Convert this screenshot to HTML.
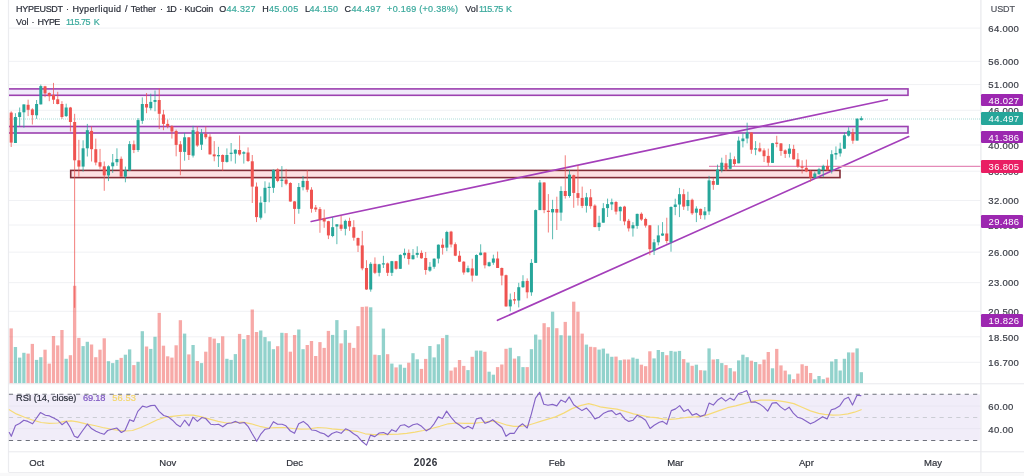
<!DOCTYPE html>
<html><head><meta charset="utf-8"><title>HYPEUSDT chart</title>
<style>
html,body{margin:0;padding:0;background:#fff;}
body{width:1024px;height:476px;position:relative;overflow:hidden;font-family:"Liberation Sans",sans-serif;}
.t{position:absolute;white-space:nowrap;line-height:12px;font-size:9px;color:#2a2e39;-webkit-text-stroke:0.2px currentColor;}
.h .d{color:#2a2e39} .h .g{color:#3aa99c}
.ax{font-size:9.5px;letter-spacing:0.3px;color:#3a3d46;}
.tm{width:40px;text-align:center;font-size:9.5px;color:#2f323b;}
.bx{position:absolute;left:981.3px;width:42px;height:12.8px;border-radius:1.3px;color:#fff;font-size:9.5px;letter-spacing:0.3px;line-height:13.2px;text-indent:7.3px;white-space:nowrap;}
</style></head><body><div id="wrap" style="position:absolute;left:0;top:0;width:1024px;height:476px;filter:blur(0.4px)">
<svg width="1024" height="476" viewBox="0 0 1024 476" style="position:absolute;left:0;top:0">
<defs><clipPath id="cp"><rect x="9" y="0" width="971.5" height="384"/></clipPath></defs>
<line x1="8.5" x2="980.9" y1="28.10" y2="28.10" stroke="#f0f1f4" stroke-width="1"/>
<line x1="8.5" x2="980.9" y1="61.32" y2="61.32" stroke="#f0f1f4" stroke-width="1"/>
<line x1="8.5" x2="980.9" y1="84.58" y2="84.58" stroke="#f0f1f4" stroke-width="1"/>
<line x1="8.5" x2="980.9" y1="110.25" y2="110.25" stroke="#f0f1f4" stroke-width="1"/>
<line x1="8.5" x2="980.9" y1="145.01" y2="145.01" stroke="#f0f1f4" stroke-width="1"/>
<line x1="8.5" x2="980.9" y1="171.22" y2="171.22" stroke="#f0f1f4" stroke-width="1"/>
<line x1="8.5" x2="980.9" y1="200.52" y2="200.52" stroke="#f0f1f4" stroke-width="1"/>
<line x1="8.5" x2="980.9" y1="225.01" y2="225.01" stroke="#f0f1f4" stroke-width="1"/>
<line x1="8.5" x2="980.9" y1="252.17" y2="252.17" stroke="#f0f1f4" stroke-width="1"/>
<line x1="8.5" x2="980.9" y1="282.67" y2="282.67" stroke="#f0f1f4" stroke-width="1"/>
<line x1="8.5" x2="980.9" y1="311.29" y2="311.29" stroke="#f0f1f4" stroke-width="1"/>
<line x1="8.5" x2="980.9" y1="336.83" y2="336.83" stroke="#f0f1f4" stroke-width="1"/>
<line x1="8.5" x2="980.9" y1="362.29" y2="362.29" stroke="#f0f1f4" stroke-width="1"/>
<rect x="9.0" y="394.3" width="970.9" height="46.099999999999966" fill="#f1edf9"/>
<line x1="8.5" x2="980.9" y1="406" y2="406" stroke="#e9e6f2" stroke-width="1"/>
<line x1="8.5" x2="980.9" y1="428.6" y2="428.6" stroke="#e9e6f2" stroke-width="1"/>
<line x1="8.5" x2="8.5" y1="0" y2="472" stroke="#ebecef" stroke-width="1.2"/>
<line x1="980.9" x2="980.9" y1="0" y2="472.8" stroke="#ebecef" stroke-width="1.4"/>
<line x1="8.5" x2="1024" y1="383.8" y2="383.8" stroke="#e8e9ed" stroke-width="1"/>
<line x1="8.5" x2="1024" y1="451.8" y2="451.8" stroke="#e8e9ed" stroke-width="1"/>
<rect x="0" y="472.8" width="1024" height="4" fill="#f8f8f9"/>
<line x1="8.5" x2="1024" y1="472.5" y2="472.5" stroke="#ececef" stroke-width="1"/>
<g clip-path="url(#cp)">
<rect x="9.55" y="328.40" width="3.3" height="54.70" fill="#ef5350" fill-opacity="0.5"/>
<rect x="13.78" y="347.00" width="3.3" height="36.10" fill="#26a69a" fill-opacity="0.5"/>
<rect x="18.01" y="357.60" width="3.3" height="25.50" fill="#26a69a" fill-opacity="0.5"/>
<rect x="22.24" y="352.80" width="3.3" height="30.30" fill="#26a69a" fill-opacity="0.5"/>
<rect x="26.47" y="353.60" width="3.3" height="29.50" fill="#ef5350" fill-opacity="0.5"/>
<rect x="30.70" y="343.90" width="3.3" height="39.20" fill="#ef5350" fill-opacity="0.5"/>
<rect x="34.93" y="359.90" width="3.3" height="23.20" fill="#26a69a" fill-opacity="0.5"/>
<rect x="39.16" y="357.20" width="3.3" height="25.90" fill="#26a69a" fill-opacity="0.5"/>
<rect x="43.39" y="349.70" width="3.3" height="33.40" fill="#ef5350" fill-opacity="0.5"/>
<rect x="47.62" y="363.60" width="3.3" height="19.50" fill="#ef5350" fill-opacity="0.5"/>
<rect x="51.85" y="336.00" width="3.3" height="47.10" fill="#ef5350" fill-opacity="0.5"/>
<rect x="56.07" y="345.40" width="3.3" height="37.70" fill="#ef5350" fill-opacity="0.5"/>
<rect x="60.30" y="330.00" width="3.3" height="53.10" fill="#ef5350" fill-opacity="0.5"/>
<rect x="64.53" y="358.80" width="3.3" height="24.30" fill="#26a69a" fill-opacity="0.5"/>
<rect x="68.76" y="355.20" width="3.3" height="27.90" fill="#ef5350" fill-opacity="0.5"/>
<rect x="72.99" y="285.80" width="3.3" height="97.30" fill="#ef5350" fill-opacity="0.5"/>
<rect x="77.22" y="337.90" width="3.3" height="45.20" fill="#ef5350" fill-opacity="0.5"/>
<rect x="81.45" y="346.10" width="3.3" height="37.00" fill="#26a69a" fill-opacity="0.5"/>
<rect x="85.68" y="341.80" width="3.3" height="41.30" fill="#26a69a" fill-opacity="0.5"/>
<rect x="89.91" y="344.50" width="3.3" height="38.60" fill="#ef5350" fill-opacity="0.5"/>
<rect x="94.14" y="357.20" width="3.3" height="25.90" fill="#ef5350" fill-opacity="0.5"/>
<rect x="98.37" y="349.70" width="3.3" height="33.40" fill="#ef5350" fill-opacity="0.5"/>
<rect x="102.60" y="338.30" width="3.3" height="44.80" fill="#ef5350" fill-opacity="0.5"/>
<rect x="106.83" y="361.20" width="3.3" height="21.90" fill="#26a69a" fill-opacity="0.5"/>
<rect x="111.06" y="363.10" width="3.3" height="20.00" fill="#26a69a" fill-opacity="0.5"/>
<rect x="115.29" y="359.90" width="3.3" height="23.20" fill="#26a69a" fill-opacity="0.5"/>
<rect x="119.52" y="357.90" width="3.3" height="25.20" fill="#ef5350" fill-opacity="0.5"/>
<rect x="123.75" y="354.70" width="3.3" height="28.40" fill="#26a69a" fill-opacity="0.5"/>
<rect x="127.98" y="349.40" width="3.3" height="33.70" fill="#26a69a" fill-opacity="0.5"/>
<rect x="132.21" y="365.10" width="3.3" height="18.00" fill="#ef5350" fill-opacity="0.5"/>
<rect x="136.43" y="361.80" width="3.3" height="21.30" fill="#26a69a" fill-opacity="0.5"/>
<rect x="140.66" y="331.20" width="3.3" height="51.90" fill="#26a69a" fill-opacity="0.5"/>
<rect x="144.89" y="346.50" width="3.3" height="36.60" fill="#ef5350" fill-opacity="0.5"/>
<rect x="149.12" y="348.90" width="3.3" height="34.20" fill="#26a69a" fill-opacity="0.5"/>
<rect x="153.35" y="336.80" width="3.3" height="46.30" fill="#26a69a" fill-opacity="0.5"/>
<rect x="157.58" y="312.90" width="3.3" height="70.20" fill="#ef5350" fill-opacity="0.5"/>
<rect x="161.81" y="345.70" width="3.3" height="37.40" fill="#ef5350" fill-opacity="0.5"/>
<rect x="166.04" y="356.30" width="3.3" height="26.80" fill="#ef5350" fill-opacity="0.5"/>
<rect x="170.27" y="357.60" width="3.3" height="25.50" fill="#ef5350" fill-opacity="0.5"/>
<rect x="174.50" y="345.30" width="3.3" height="37.80" fill="#ef5350" fill-opacity="0.5"/>
<rect x="178.73" y="320.20" width="3.3" height="62.90" fill="#ef5350" fill-opacity="0.5"/>
<rect x="182.96" y="333.60" width="3.3" height="49.50" fill="#26a69a" fill-opacity="0.5"/>
<rect x="187.19" y="354.40" width="3.3" height="28.70" fill="#ef5350" fill-opacity="0.5"/>
<rect x="191.42" y="345.00" width="3.3" height="38.10" fill="#26a69a" fill-opacity="0.5"/>
<rect x="195.65" y="361.00" width="3.3" height="22.10" fill="#ef5350" fill-opacity="0.5"/>
<rect x="199.88" y="363.10" width="3.3" height="20.00" fill="#26a69a" fill-opacity="0.5"/>
<rect x="204.11" y="351.70" width="3.3" height="31.40" fill="#ef5350" fill-opacity="0.5"/>
<rect x="208.34" y="337.10" width="3.3" height="46.00" fill="#ef5350" fill-opacity="0.5"/>
<rect x="212.57" y="338.60" width="3.3" height="44.50" fill="#ef5350" fill-opacity="0.5"/>
<rect x="216.80" y="343.10" width="3.3" height="40.00" fill="#26a69a" fill-opacity="0.5"/>
<rect x="221.02" y="336.30" width="3.3" height="46.80" fill="#ef5350" fill-opacity="0.5"/>
<rect x="225.25" y="358.80" width="3.3" height="24.30" fill="#26a69a" fill-opacity="0.5"/>
<rect x="229.48" y="359.90" width="3.3" height="23.20" fill="#26a69a" fill-opacity="0.5"/>
<rect x="233.71" y="354.10" width="3.3" height="29.00" fill="#26a69a" fill-opacity="0.5"/>
<rect x="237.94" y="333.90" width="3.3" height="49.20" fill="#ef5350" fill-opacity="0.5"/>
<rect x="242.17" y="339.10" width="3.3" height="44.00" fill="#26a69a" fill-opacity="0.5"/>
<rect x="246.40" y="335.00" width="3.3" height="48.10" fill="#ef5350" fill-opacity="0.5"/>
<rect x="250.63" y="309.50" width="3.3" height="73.60" fill="#ef5350" fill-opacity="0.5"/>
<rect x="254.86" y="332.00" width="3.3" height="51.10" fill="#ef5350" fill-opacity="0.5"/>
<rect x="259.09" y="330.50" width="3.3" height="52.60" fill="#26a69a" fill-opacity="0.5"/>
<rect x="263.32" y="337.10" width="3.3" height="46.00" fill="#26a69a" fill-opacity="0.5"/>
<rect x="267.55" y="341.30" width="3.3" height="41.80" fill="#26a69a" fill-opacity="0.5"/>
<rect x="271.78" y="349.20" width="3.3" height="33.90" fill="#26a69a" fill-opacity="0.5"/>
<rect x="276.01" y="346.20" width="3.3" height="36.90" fill="#ef5350" fill-opacity="0.5"/>
<rect x="280.24" y="332.80" width="3.3" height="50.30" fill="#26a69a" fill-opacity="0.5"/>
<rect x="284.47" y="333.10" width="3.3" height="50.00" fill="#ef5350" fill-opacity="0.5"/>
<rect x="288.70" y="351.70" width="3.3" height="31.40" fill="#ef5350" fill-opacity="0.5"/>
<rect x="292.93" y="335.00" width="3.3" height="48.10" fill="#ef5350" fill-opacity="0.5"/>
<rect x="297.16" y="329.50" width="3.3" height="53.60" fill="#26a69a" fill-opacity="0.5"/>
<rect x="301.39" y="349.20" width="3.3" height="33.90" fill="#26a69a" fill-opacity="0.5"/>
<rect x="305.62" y="345.00" width="3.3" height="38.10" fill="#ef5350" fill-opacity="0.5"/>
<rect x="309.84" y="341.00" width="3.3" height="42.10" fill="#ef5350" fill-opacity="0.5"/>
<rect x="314.07" y="356.00" width="3.3" height="27.10" fill="#ef5350" fill-opacity="0.5"/>
<rect x="318.30" y="342.10" width="3.3" height="41.00" fill="#ef5350" fill-opacity="0.5"/>
<rect x="322.53" y="347.90" width="3.3" height="35.20" fill="#ef5350" fill-opacity="0.5"/>
<rect x="326.76" y="330.90" width="3.3" height="52.20" fill="#ef5350" fill-opacity="0.5"/>
<rect x="330.99" y="334.90" width="3.3" height="48.20" fill="#26a69a" fill-opacity="0.5"/>
<rect x="335.22" y="320.10" width="3.3" height="63.00" fill="#26a69a" fill-opacity="0.5"/>
<rect x="339.45" y="343.40" width="3.3" height="39.70" fill="#ef5350" fill-opacity="0.5"/>
<rect x="343.68" y="330.10" width="3.3" height="53.00" fill="#26a69a" fill-opacity="0.5"/>
<rect x="347.91" y="342.80" width="3.3" height="40.30" fill="#ef5350" fill-opacity="0.5"/>
<rect x="352.14" y="347.90" width="3.3" height="35.20" fill="#ef5350" fill-opacity="0.5"/>
<rect x="356.37" y="326.20" width="3.3" height="56.90" fill="#ef5350" fill-opacity="0.5"/>
<rect x="360.60" y="306.90" width="3.3" height="76.20" fill="#ef5350" fill-opacity="0.5"/>
<rect x="364.83" y="306.50" width="3.3" height="76.60" fill="#ef5350" fill-opacity="0.5"/>
<rect x="369.06" y="307.30" width="3.3" height="75.80" fill="#26a69a" fill-opacity="0.5"/>
<rect x="373.29" y="354.70" width="3.3" height="28.40" fill="#ef5350" fill-opacity="0.5"/>
<rect x="377.52" y="355.10" width="3.3" height="28.00" fill="#26a69a" fill-opacity="0.5"/>
<rect x="381.75" y="328.60" width="3.3" height="54.50" fill="#26a69a" fill-opacity="0.5"/>
<rect x="385.98" y="354.20" width="3.3" height="28.90" fill="#ef5350" fill-opacity="0.5"/>
<rect x="390.20" y="363.60" width="3.3" height="19.50" fill="#26a69a" fill-opacity="0.5"/>
<rect x="394.43" y="367.40" width="3.3" height="15.70" fill="#ef5350" fill-opacity="0.5"/>
<rect x="398.66" y="364.60" width="3.3" height="18.50" fill="#26a69a" fill-opacity="0.5"/>
<rect x="402.89" y="367.80" width="3.3" height="15.30" fill="#26a69a" fill-opacity="0.5"/>
<rect x="407.12" y="362.70" width="3.3" height="20.40" fill="#ef5350" fill-opacity="0.5"/>
<rect x="411.35" y="353.20" width="3.3" height="29.90" fill="#26a69a" fill-opacity="0.5"/>
<rect x="415.58" y="359.30" width="3.3" height="23.80" fill="#26a69a" fill-opacity="0.5"/>
<rect x="419.81" y="368.90" width="3.3" height="14.20" fill="#ef5350" fill-opacity="0.5"/>
<rect x="424.04" y="358.90" width="3.3" height="24.20" fill="#ef5350" fill-opacity="0.5"/>
<rect x="428.27" y="346.00" width="3.3" height="37.10" fill="#26a69a" fill-opacity="0.5"/>
<rect x="432.50" y="357.40" width="3.3" height="25.70" fill="#26a69a" fill-opacity="0.5"/>
<rect x="436.73" y="344.30" width="3.3" height="38.80" fill="#26a69a" fill-opacity="0.5"/>
<rect x="440.96" y="338.10" width="3.3" height="45.00" fill="#ef5350" fill-opacity="0.5"/>
<rect x="445.19" y="334.90" width="3.3" height="48.20" fill="#26a69a" fill-opacity="0.5"/>
<rect x="449.42" y="370.60" width="3.3" height="12.50" fill="#ef5350" fill-opacity="0.5"/>
<rect x="453.65" y="367.40" width="3.3" height="15.70" fill="#ef5350" fill-opacity="0.5"/>
<rect x="457.88" y="360.00" width="3.3" height="23.10" fill="#ef5350" fill-opacity="0.5"/>
<rect x="462.11" y="365.90" width="3.3" height="17.20" fill="#ef5350" fill-opacity="0.5"/>
<rect x="466.34" y="370.10" width="3.3" height="13.00" fill="#26a69a" fill-opacity="0.5"/>
<rect x="470.57" y="356.80" width="3.3" height="26.30" fill="#ef5350" fill-opacity="0.5"/>
<rect x="474.80" y="350.60" width="3.3" height="32.50" fill="#26a69a" fill-opacity="0.5"/>
<rect x="479.02" y="350.60" width="3.3" height="32.50" fill="#26a69a" fill-opacity="0.5"/>
<rect x="483.25" y="351.80" width="3.3" height="31.30" fill="#ef5350" fill-opacity="0.5"/>
<rect x="487.48" y="371.70" width="3.3" height="11.40" fill="#26a69a" fill-opacity="0.5"/>
<rect x="491.71" y="374.70" width="3.3" height="8.40" fill="#26a69a" fill-opacity="0.5"/>
<rect x="495.94" y="367.10" width="3.3" height="16.00" fill="#ef5350" fill-opacity="0.5"/>
<rect x="500.17" y="364.50" width="3.3" height="18.60" fill="#ef5350" fill-opacity="0.5"/>
<rect x="504.40" y="348.80" width="3.3" height="34.30" fill="#ef5350" fill-opacity="0.5"/>
<rect x="508.63" y="347.80" width="3.3" height="35.30" fill="#26a69a" fill-opacity="0.5"/>
<rect x="512.86" y="358.60" width="3.3" height="24.50" fill="#ef5350" fill-opacity="0.5"/>
<rect x="517.09" y="356.20" width="3.3" height="26.90" fill="#26a69a" fill-opacity="0.5"/>
<rect x="521.32" y="367.10" width="3.3" height="16.00" fill="#26a69a" fill-opacity="0.5"/>
<rect x="525.55" y="367.10" width="3.3" height="16.00" fill="#ef5350" fill-opacity="0.5"/>
<rect x="529.78" y="349.20" width="3.3" height="33.90" fill="#26a69a" fill-opacity="0.5"/>
<rect x="534.01" y="334.60" width="3.3" height="48.50" fill="#26a69a" fill-opacity="0.5"/>
<rect x="538.24" y="339.60" width="3.3" height="43.50" fill="#26a69a" fill-opacity="0.5"/>
<rect x="542.47" y="323.20" width="3.3" height="59.90" fill="#ef5350" fill-opacity="0.5"/>
<rect x="546.70" y="327.20" width="3.3" height="55.90" fill="#ef5350" fill-opacity="0.5"/>
<rect x="550.93" y="311.70" width="3.3" height="71.40" fill="#26a69a" fill-opacity="0.5"/>
<rect x="555.16" y="328.20" width="3.3" height="54.90" fill="#ef5350" fill-opacity="0.5"/>
<rect x="559.38" y="335.20" width="3.3" height="47.90" fill="#26a69a" fill-opacity="0.5"/>
<rect x="563.61" y="321.90" width="3.3" height="61.20" fill="#ef5350" fill-opacity="0.5"/>
<rect x="567.84" y="335.60" width="3.3" height="47.50" fill="#26a69a" fill-opacity="0.5"/>
<rect x="572.07" y="301.70" width="3.3" height="81.40" fill="#ef5350" fill-opacity="0.5"/>
<rect x="576.30" y="311.70" width="3.3" height="71.40" fill="#ef5350" fill-opacity="0.5"/>
<rect x="580.53" y="333.60" width="3.3" height="49.50" fill="#ef5350" fill-opacity="0.5"/>
<rect x="584.76" y="344.60" width="3.3" height="38.50" fill="#26a69a" fill-opacity="0.5"/>
<rect x="588.99" y="346.80" width="3.3" height="36.30" fill="#ef5350" fill-opacity="0.5"/>
<rect x="593.22" y="347.20" width="3.3" height="35.90" fill="#ef5350" fill-opacity="0.5"/>
<rect x="597.45" y="349.60" width="3.3" height="33.50" fill="#26a69a" fill-opacity="0.5"/>
<rect x="601.68" y="348.60" width="3.3" height="34.50" fill="#26a69a" fill-opacity="0.5"/>
<rect x="605.91" y="353.60" width="3.3" height="29.50" fill="#26a69a" fill-opacity="0.5"/>
<rect x="610.14" y="356.80" width="3.3" height="26.30" fill="#26a69a" fill-opacity="0.5"/>
<rect x="614.37" y="356.60" width="3.3" height="26.50" fill="#ef5350" fill-opacity="0.5"/>
<rect x="618.60" y="360.20" width="3.3" height="22.90" fill="#26a69a" fill-opacity="0.5"/>
<rect x="622.83" y="359.50" width="3.3" height="23.60" fill="#ef5350" fill-opacity="0.5"/>
<rect x="627.06" y="359.50" width="3.3" height="23.60" fill="#ef5350" fill-opacity="0.5"/>
<rect x="631.29" y="357.60" width="3.3" height="25.50" fill="#26a69a" fill-opacity="0.5"/>
<rect x="635.52" y="358.80" width="3.3" height="24.30" fill="#26a69a" fill-opacity="0.5"/>
<rect x="639.75" y="364.70" width="3.3" height="18.40" fill="#ef5350" fill-opacity="0.5"/>
<rect x="643.98" y="366.20" width="3.3" height="16.90" fill="#ef5350" fill-opacity="0.5"/>
<rect x="648.20" y="351.30" width="3.3" height="31.80" fill="#ef5350" fill-opacity="0.5"/>
<rect x="652.43" y="358.40" width="3.3" height="24.70" fill="#26a69a" fill-opacity="0.5"/>
<rect x="656.66" y="350.00" width="3.3" height="33.10" fill="#26a69a" fill-opacity="0.5"/>
<rect x="660.89" y="352.00" width="3.3" height="31.10" fill="#26a69a" fill-opacity="0.5"/>
<rect x="665.12" y="355.20" width="3.3" height="27.90" fill="#ef5350" fill-opacity="0.5"/>
<rect x="669.35" y="350.90" width="3.3" height="32.20" fill="#26a69a" fill-opacity="0.5"/>
<rect x="673.58" y="351.60" width="3.3" height="31.50" fill="#26a69a" fill-opacity="0.5"/>
<rect x="677.81" y="350.90" width="3.3" height="32.20" fill="#26a69a" fill-opacity="0.5"/>
<rect x="682.04" y="359.10" width="3.3" height="24.00" fill="#ef5350" fill-opacity="0.5"/>
<rect x="686.27" y="362.60" width="3.3" height="20.50" fill="#26a69a" fill-opacity="0.5"/>
<rect x="690.50" y="365.80" width="3.3" height="17.30" fill="#ef5350" fill-opacity="0.5"/>
<rect x="694.73" y="364.70" width="3.3" height="18.40" fill="#26a69a" fill-opacity="0.5"/>
<rect x="698.96" y="370.20" width="3.3" height="12.90" fill="#ef5350" fill-opacity="0.5"/>
<rect x="703.19" y="370.50" width="3.3" height="12.60" fill="#26a69a" fill-opacity="0.5"/>
<rect x="707.42" y="348.40" width="3.3" height="34.70" fill="#26a69a" fill-opacity="0.5"/>
<rect x="711.65" y="359.50" width="3.3" height="23.60" fill="#ef5350" fill-opacity="0.5"/>
<rect x="715.88" y="359.10" width="3.3" height="24.00" fill="#26a69a" fill-opacity="0.5"/>
<rect x="720.11" y="363.10" width="3.3" height="20.00" fill="#26a69a" fill-opacity="0.5"/>
<rect x="724.34" y="365.10" width="3.3" height="18.00" fill="#ef5350" fill-opacity="0.5"/>
<rect x="728.57" y="368.10" width="3.3" height="15.00" fill="#26a69a" fill-opacity="0.5"/>
<rect x="732.79" y="371.40" width="3.3" height="11.70" fill="#ef5350" fill-opacity="0.5"/>
<rect x="737.02" y="360.40" width="3.3" height="22.70" fill="#26a69a" fill-opacity="0.5"/>
<rect x="741.25" y="354.70" width="3.3" height="28.40" fill="#26a69a" fill-opacity="0.5"/>
<rect x="745.48" y="357.20" width="3.3" height="25.90" fill="#26a69a" fill-opacity="0.5"/>
<rect x="749.71" y="360.70" width="3.3" height="22.40" fill="#ef5350" fill-opacity="0.5"/>
<rect x="753.94" y="362.00" width="3.3" height="21.10" fill="#26a69a" fill-opacity="0.5"/>
<rect x="758.17" y="364.20" width="3.3" height="18.90" fill="#ef5350" fill-opacity="0.5"/>
<rect x="762.40" y="359.60" width="3.3" height="23.50" fill="#ef5350" fill-opacity="0.5"/>
<rect x="766.63" y="352.00" width="3.3" height="31.10" fill="#ef5350" fill-opacity="0.5"/>
<rect x="770.86" y="368.30" width="3.3" height="14.80" fill="#26a69a" fill-opacity="0.5"/>
<rect x="775.09" y="348.90" width="3.3" height="34.20" fill="#ef5350" fill-opacity="0.5"/>
<rect x="779.32" y="365.40" width="3.3" height="17.70" fill="#ef5350" fill-opacity="0.5"/>
<rect x="783.55" y="370.60" width="3.3" height="12.50" fill="#ef5350" fill-opacity="0.5"/>
<rect x="787.78" y="374.40" width="3.3" height="8.70" fill="#26a69a" fill-opacity="0.5"/>
<rect x="792.01" y="379.20" width="3.3" height="3.90" fill="#ef5350" fill-opacity="0.5"/>
<rect x="796.24" y="373.60" width="3.3" height="9.50" fill="#ef5350" fill-opacity="0.5"/>
<rect x="800.47" y="364.30" width="3.3" height="18.80" fill="#ef5350" fill-opacity="0.5"/>
<rect x="804.70" y="365.90" width="3.3" height="17.20" fill="#ef5350" fill-opacity="0.5"/>
<rect x="808.93" y="373.00" width="3.3" height="10.10" fill="#ef5350" fill-opacity="0.5"/>
<rect x="813.16" y="379.30" width="3.3" height="3.80" fill="#26a69a" fill-opacity="0.5"/>
<rect x="817.38" y="376.00" width="3.3" height="7.10" fill="#26a69a" fill-opacity="0.5"/>
<rect x="821.61" y="379.20" width="3.3" height="3.90" fill="#26a69a" fill-opacity="0.5"/>
<rect x="825.84" y="377.60" width="3.3" height="5.50" fill="#ef5350" fill-opacity="0.5"/>
<rect x="830.07" y="361.50" width="3.3" height="21.60" fill="#26a69a" fill-opacity="0.5"/>
<rect x="834.30" y="359.10" width="3.3" height="24.00" fill="#26a69a" fill-opacity="0.5"/>
<rect x="838.53" y="370.50" width="3.3" height="12.60" fill="#26a69a" fill-opacity="0.5"/>
<rect x="842.76" y="358.80" width="3.3" height="24.30" fill="#26a69a" fill-opacity="0.5"/>
<rect x="846.99" y="352.40" width="3.3" height="30.70" fill="#26a69a" fill-opacity="0.5"/>
<rect x="851.22" y="352.50" width="3.3" height="30.60" fill="#ef5350" fill-opacity="0.5"/>
<rect x="855.45" y="348.40" width="3.3" height="34.70" fill="#26a69a" fill-opacity="0.5"/>
<rect x="859.68" y="372.20" width="3.3" height="10.90" fill="#26a69a" fill-opacity="0.5"/>
<rect x="-20" y="88.9" width="928.0" height="6.3999999999999915" fill="#f0eafa" stroke="#9c40b0" stroke-width="1.6"/>
<rect x="-20" y="126.5" width="928.0" height="6.5" fill="#f0eafa" stroke="#9c40b0" stroke-width="1.6"/>
<rect x="70.7" y="170.4" width="769.3" height="7.199999999999989" fill="#fde0e2" stroke="#832d37" stroke-width="1.6"/>
<line x1="311.2" y1="221.5" x2="887.3" y2="99.7" stroke="#a43fba" stroke-width="1.65" stroke-linecap="round"/>
<line x1="497.5" y1="320.3" x2="908.7" y2="136.6" stroke="#a43fba" stroke-width="1.65" stroke-linecap="round"/>
<line x1="709" y1="166.3" x2="980.9" y2="166.3" stroke="#e48ab8" stroke-width="1.2"/>
<line x1="9" x2="980.9" y1="119" y2="119" stroke="#26a69a" stroke-width="1" stroke-dasharray="1 1" opacity="0.38"/>
<line x1="11.20" x2="11.20" y1="111.30" y2="147.00" stroke="#ef5350" stroke-width="1" opacity="0.75"/>
<rect x="9.70" y="112.60" width="3" height="30.00" fill="#ef5350"/>
<line x1="15.43" x2="15.43" y1="113.20" y2="143.00" stroke="#26a69a" stroke-width="1" opacity="0.75"/>
<rect x="13.93" y="117.00" width="3" height="26.00" fill="#26a69a"/>
<line x1="19.66" x2="19.66" y1="107.50" y2="126.40" stroke="#26a69a" stroke-width="1" opacity="0.75"/>
<rect x="18.16" y="112.30" width="3" height="4.70" fill="#26a69a"/>
<line x1="23.89" x2="23.89" y1="104.40" y2="127.70" stroke="#26a69a" stroke-width="1" opacity="0.75"/>
<rect x="22.39" y="104.40" width="3" height="7.90" fill="#26a69a"/>
<line x1="28.12" x2="28.12" y1="99.70" y2="116.10" stroke="#ef5350" stroke-width="1" opacity="0.75"/>
<rect x="26.62" y="104.80" width="3" height="5.00" fill="#ef5350"/>
<line x1="32.35" x2="32.35" y1="108.20" y2="124.50" stroke="#ef5350" stroke-width="1" opacity="0.75"/>
<rect x="30.85" y="109.40" width="3" height="5.70" fill="#ef5350"/>
<line x1="36.58" x2="36.58" y1="100.00" y2="118.90" stroke="#26a69a" stroke-width="1" opacity="0.75"/>
<rect x="35.08" y="104.00" width="3" height="11.30" fill="#26a69a"/>
<line x1="40.81" x2="40.81" y1="84.60" y2="104.40" stroke="#26a69a" stroke-width="1" opacity="0.75"/>
<rect x="39.31" y="86.10" width="3" height="18.30" fill="#26a69a"/>
<line x1="45.04" x2="45.04" y1="85.80" y2="97.20" stroke="#ef5350" stroke-width="1" opacity="0.75"/>
<rect x="43.54" y="86.30" width="3" height="7.10" fill="#ef5350"/>
<line x1="49.27" x2="49.27" y1="92.40" y2="101.20" stroke="#ef5350" stroke-width="1" opacity="0.75"/>
<rect x="47.77" y="93.00" width="3" height="3.20" fill="#ef5350"/>
<line x1="53.50" x2="53.50" y1="82.90" y2="104.00" stroke="#ef5350" stroke-width="1" opacity="0.75"/>
<rect x="52.00" y="94.90" width="3" height="4.80" fill="#ef5350"/>
<line x1="57.72" x2="57.72" y1="91.80" y2="104.40" stroke="#ef5350" stroke-width="1" opacity="0.75"/>
<rect x="56.22" y="99.30" width="3" height="4.70" fill="#ef5350"/>
<line x1="61.95" x2="61.95" y1="101.20" y2="118.90" stroke="#ef5350" stroke-width="1" opacity="0.75"/>
<rect x="60.45" y="104.00" width="3" height="13.00" fill="#ef5350"/>
<line x1="66.18" x2="66.18" y1="103.70" y2="117.00" stroke="#26a69a" stroke-width="1" opacity="0.75"/>
<rect x="64.68" y="107.50" width="3" height="8.60" fill="#26a69a"/>
<line x1="70.41" x2="70.41" y1="106.90" y2="131.50" stroke="#ef5350" stroke-width="1" opacity="0.75"/>
<rect x="68.91" y="107.50" width="3" height="14.50" fill="#ef5350"/>
<line x1="74.64" x2="74.64" y1="113.80" y2="307.80" stroke="#ef5350" stroke-width="1" opacity="0.75"/>
<rect x="73.14" y="122.00" width="3" height="38.30" fill="#ef5350"/>
<line x1="78.87" x2="78.87" y1="139.80" y2="176.70" stroke="#ef5350" stroke-width="1" opacity="0.75"/>
<rect x="77.37" y="160.30" width="3" height="6.30" fill="#ef5350"/>
<line x1="83.10" x2="83.10" y1="140.30" y2="171.60" stroke="#26a69a" stroke-width="1" opacity="0.75"/>
<rect x="81.60" y="148.30" width="3" height="18.30" fill="#26a69a"/>
<line x1="87.33" x2="87.33" y1="123.90" y2="156.50" stroke="#26a69a" stroke-width="1" opacity="0.75"/>
<rect x="85.83" y="130.20" width="3" height="18.10" fill="#26a69a"/>
<line x1="91.56" x2="91.56" y1="126.40" y2="161.50" stroke="#ef5350" stroke-width="1" opacity="0.75"/>
<rect x="90.06" y="130.90" width="3" height="18.30" fill="#ef5350"/>
<line x1="95.79" x2="95.79" y1="138.60" y2="165.30" stroke="#ef5350" stroke-width="1" opacity="0.75"/>
<rect x="94.29" y="149.20" width="3" height="13.30" fill="#ef5350"/>
<line x1="100.02" x2="100.02" y1="148.90" y2="168.80" stroke="#ef5350" stroke-width="1" opacity="0.75"/>
<rect x="98.52" y="162.20" width="3" height="4.40" fill="#ef5350"/>
<line x1="104.25" x2="104.25" y1="161.50" y2="190.80" stroke="#ef5350" stroke-width="1" opacity="0.75"/>
<rect x="102.75" y="166.30" width="3" height="9.10" fill="#ef5350"/>
<line x1="108.48" x2="108.48" y1="165.30" y2="181.10" stroke="#26a69a" stroke-width="1" opacity="0.75"/>
<rect x="106.98" y="166.30" width="3" height="9.10" fill="#26a69a"/>
<line x1="112.71" x2="112.71" y1="154.00" y2="172.90" stroke="#26a69a" stroke-width="1" opacity="0.75"/>
<rect x="111.21" y="162.50" width="3" height="3.80" fill="#26a69a"/>
<line x1="116.94" x2="116.94" y1="148.30" y2="165.90" stroke="#26a69a" stroke-width="1" opacity="0.75"/>
<rect x="115.44" y="159.00" width="3" height="3.20" fill="#26a69a"/>
<line x1="121.17" x2="121.17" y1="156.50" y2="176.70" stroke="#ef5350" stroke-width="1" opacity="0.75"/>
<rect x="119.67" y="158.80" width="3" height="17.90" fill="#ef5350"/>
<line x1="125.40" x2="125.40" y1="166.60" y2="182.30" stroke="#26a69a" stroke-width="1" opacity="0.75"/>
<rect x="123.90" y="170.40" width="3" height="6.30" fill="#26a69a"/>
<line x1="129.63" x2="129.63" y1="141.10" y2="170.80" stroke="#26a69a" stroke-width="1" opacity="0.75"/>
<rect x="128.13" y="144.10" width="3" height="26.30" fill="#26a69a"/>
<line x1="133.86" x2="133.86" y1="140.50" y2="153.10" stroke="#ef5350" stroke-width="1" opacity="0.75"/>
<rect x="132.36" y="144.30" width="3" height="5.70" fill="#ef5350"/>
<line x1="138.08" x2="138.08" y1="118.20" y2="151.90" stroke="#26a69a" stroke-width="1" opacity="0.75"/>
<rect x="136.58" y="120.10" width="3" height="29.90" fill="#26a69a"/>
<line x1="142.31" x2="142.31" y1="97.40" y2="123.90" stroke="#26a69a" stroke-width="1" opacity="0.75"/>
<rect x="140.81" y="104.00" width="3" height="16.80" fill="#26a69a"/>
<line x1="146.54" x2="146.54" y1="93.00" y2="113.20" stroke="#ef5350" stroke-width="1" opacity="0.75"/>
<rect x="145.04" y="104.00" width="3" height="3.50" fill="#ef5350"/>
<line x1="150.77" x2="150.77" y1="93.70" y2="110.30" stroke="#26a69a" stroke-width="1" opacity="0.75"/>
<rect x="149.27" y="101.90" width="3" height="6.30" fill="#26a69a"/>
<line x1="155.00" x2="155.00" y1="90.50" y2="111.30" stroke="#26a69a" stroke-width="1" opacity="0.75"/>
<rect x="153.50" y="100.00" width="3" height="1.90" fill="#26a69a"/>
<line x1="159.23" x2="159.23" y1="88.60" y2="129.00" stroke="#ef5350" stroke-width="1" opacity="0.75"/>
<rect x="157.73" y="100.00" width="3" height="13.80" fill="#ef5350"/>
<line x1="163.46" x2="163.46" y1="109.80" y2="130.20" stroke="#ef5350" stroke-width="1" opacity="0.75"/>
<rect x="161.96" y="114.50" width="3" height="9.40" fill="#ef5350"/>
<line x1="167.69" x2="167.69" y1="119.50" y2="128.30" stroke="#ef5350" stroke-width="1" opacity="0.75"/>
<rect x="166.19" y="123.90" width="3" height="2.50" fill="#ef5350"/>
<line x1="171.92" x2="171.92" y1="125.20" y2="138.60" stroke="#ef5350" stroke-width="1" opacity="0.75"/>
<rect x="170.42" y="126.20" width="3" height="5.30" fill="#ef5350"/>
<line x1="176.15" x2="176.15" y1="129.60" y2="156.30" stroke="#ef5350" stroke-width="1" opacity="0.75"/>
<rect x="174.65" y="131.00" width="3" height="13.90" fill="#ef5350"/>
<line x1="180.38" x2="180.38" y1="141.10" y2="175.20" stroke="#ef5350" stroke-width="1" opacity="0.75"/>
<rect x="178.88" y="144.30" width="3" height="7.60" fill="#ef5350"/>
<line x1="184.61" x2="184.61" y1="132.90" y2="160.70" stroke="#26a69a" stroke-width="1" opacity="0.75"/>
<rect x="183.11" y="137.30" width="3" height="14.60" fill="#26a69a"/>
<line x1="188.84" x2="188.84" y1="137.30" y2="160.00" stroke="#ef5350" stroke-width="1" opacity="0.75"/>
<rect x="187.34" y="137.30" width="3" height="17.70" fill="#ef5350"/>
<line x1="193.07" x2="193.07" y1="125.80" y2="157.50" stroke="#26a69a" stroke-width="1" opacity="0.75"/>
<rect x="191.57" y="130.20" width="3" height="25.40" fill="#26a69a"/>
<line x1="197.30" x2="197.30" y1="126.40" y2="146.80" stroke="#ef5350" stroke-width="1" opacity="0.75"/>
<rect x="195.80" y="131.50" width="3" height="14.00" fill="#ef5350"/>
<line x1="201.53" x2="201.53" y1="129.00" y2="150.00" stroke="#26a69a" stroke-width="1" opacity="0.75"/>
<rect x="200.03" y="133.40" width="3" height="11.30" fill="#26a69a"/>
<line x1="205.76" x2="205.76" y1="126.40" y2="139.20" stroke="#ef5350" stroke-width="1" opacity="0.75"/>
<rect x="204.26" y="134.00" width="3" height="3.30" fill="#ef5350"/>
<line x1="209.99" x2="209.99" y1="134.20" y2="154.40" stroke="#ef5350" stroke-width="1" opacity="0.75"/>
<rect x="208.49" y="136.70" width="3" height="17.70" fill="#ef5350"/>
<line x1="214.22" x2="214.22" y1="141.10" y2="161.30" stroke="#ef5350" stroke-width="1" opacity="0.75"/>
<rect x="212.72" y="154.40" width="3" height="1.90" fill="#ef5350"/>
<line x1="218.45" x2="218.45" y1="146.80" y2="167.00" stroke="#26a69a" stroke-width="1" opacity="0.75"/>
<rect x="216.95" y="155.00" width="3" height="1.30" fill="#26a69a"/>
<line x1="222.67" x2="222.67" y1="154.40" y2="170.80" stroke="#ef5350" stroke-width="1" opacity="0.75"/>
<rect x="221.17" y="155.00" width="3" height="6.90" fill="#ef5350"/>
<line x1="226.90" x2="226.90" y1="148.40" y2="162.60" stroke="#26a69a" stroke-width="1" opacity="0.75"/>
<rect x="225.40" y="155.00" width="3" height="6.90" fill="#26a69a"/>
<line x1="231.13" x2="231.13" y1="143.00" y2="161.30" stroke="#26a69a" stroke-width="1" opacity="0.75"/>
<rect x="229.63" y="152.70" width="3" height="1.20" fill="#26a69a"/>
<line x1="235.36" x2="235.36" y1="149.30" y2="163.60" stroke="#26a69a" stroke-width="1" opacity="0.75"/>
<rect x="233.86" y="149.70" width="3" height="4.00" fill="#26a69a"/>
<line x1="239.59" x2="239.59" y1="135.50" y2="155.60" stroke="#ef5350" stroke-width="1" opacity="0.75"/>
<rect x="238.09" y="150.00" width="3" height="4.40" fill="#ef5350"/>
<line x1="243.82" x2="243.82" y1="151.20" y2="163.60" stroke="#26a69a" stroke-width="1" opacity="0.75"/>
<rect x="242.32" y="152.20" width="3" height="1.50" fill="#26a69a"/>
<line x1="248.05" x2="248.05" y1="147.40" y2="162.00" stroke="#ef5350" stroke-width="1" opacity="0.75"/>
<rect x="246.55" y="152.50" width="3" height="8.50" fill="#ef5350"/>
<line x1="252.28" x2="252.28" y1="155.00" y2="203.00" stroke="#ef5350" stroke-width="1" opacity="0.75"/>
<rect x="250.78" y="161.30" width="3" height="25.30" fill="#ef5350"/>
<line x1="256.51" x2="256.51" y1="182.50" y2="222.10" stroke="#ef5350" stroke-width="1" opacity="0.75"/>
<rect x="255.01" y="186.60" width="3" height="30.50" fill="#ef5350"/>
<line x1="260.74" x2="260.74" y1="196.40" y2="219.60" stroke="#26a69a" stroke-width="1" opacity="0.75"/>
<rect x="259.24" y="202.60" width="3" height="15.10" fill="#26a69a"/>
<line x1="264.97" x2="264.97" y1="181.30" y2="213.30" stroke="#26a69a" stroke-width="1" opacity="0.75"/>
<rect x="263.47" y="187.80" width="3" height="14.20" fill="#26a69a"/>
<line x1="269.20" x2="269.20" y1="182.50" y2="202.30" stroke="#26a69a" stroke-width="1" opacity="0.75"/>
<rect x="267.70" y="186.80" width="3" height="1.20" fill="#26a69a"/>
<line x1="273.43" x2="273.43" y1="169.50" y2="192.90" stroke="#26a69a" stroke-width="1" opacity="0.75"/>
<rect x="271.93" y="169.90" width="3" height="17.90" fill="#26a69a"/>
<line x1="277.66" x2="277.66" y1="168.30" y2="182.20" stroke="#ef5350" stroke-width="1" opacity="0.75"/>
<rect x="276.16" y="169.50" width="3" height="11.40" fill="#ef5350"/>
<line x1="281.89" x2="281.89" y1="166.10" y2="187.20" stroke="#26a69a" stroke-width="1" opacity="0.75"/>
<rect x="280.39" y="179.60" width="3" height="1.30" fill="#26a69a"/>
<line x1="286.12" x2="286.12" y1="168.90" y2="185.30" stroke="#ef5350" stroke-width="1" opacity="0.75"/>
<rect x="284.62" y="179.60" width="3" height="4.20" fill="#ef5350"/>
<line x1="290.35" x2="290.35" y1="182.20" y2="201.70" stroke="#ef5350" stroke-width="1" opacity="0.75"/>
<rect x="288.85" y="183.00" width="3" height="18.50" fill="#ef5350"/>
<line x1="294.58" x2="294.58" y1="201.00" y2="224.00" stroke="#ef5350" stroke-width="1" opacity="0.75"/>
<rect x="293.08" y="201.40" width="3" height="7.50" fill="#ef5350"/>
<line x1="298.81" x2="298.81" y1="183.00" y2="213.70" stroke="#26a69a" stroke-width="1" opacity="0.75"/>
<rect x="297.31" y="187.00" width="3" height="21.90" fill="#26a69a"/>
<line x1="303.04" x2="303.04" y1="175.90" y2="190.40" stroke="#26a69a" stroke-width="1" opacity="0.75"/>
<rect x="301.54" y="180.90" width="3" height="6.30" fill="#26a69a"/>
<line x1="307.26" x2="307.26" y1="170.20" y2="192.20" stroke="#ef5350" stroke-width="1" opacity="0.75"/>
<rect x="305.76" y="180.90" width="3" height="8.80" fill="#ef5350"/>
<line x1="311.49" x2="311.49" y1="187.20" y2="212.70" stroke="#ef5350" stroke-width="1" opacity="0.75"/>
<rect x="309.99" y="189.70" width="3" height="19.10" fill="#ef5350"/>
<line x1="315.72" x2="315.72" y1="205.00" y2="212.00" stroke="#ef5350" stroke-width="1" opacity="0.75"/>
<rect x="314.22" y="207.50" width="3" height="2.00" fill="#ef5350"/>
<line x1="319.95" x2="319.95" y1="207.00" y2="232.80" stroke="#ef5350" stroke-width="1" opacity="0.75"/>
<rect x="318.45" y="209.10" width="3" height="10.50" fill="#ef5350"/>
<line x1="324.18" x2="324.18" y1="209.50" y2="227.80" stroke="#ef5350" stroke-width="1" opacity="0.75"/>
<rect x="322.68" y="218.30" width="3" height="3.20" fill="#ef5350"/>
<line x1="328.41" x2="328.41" y1="220.80" y2="239.10" stroke="#ef5350" stroke-width="1" opacity="0.75"/>
<rect x="326.91" y="221.20" width="3" height="14.20" fill="#ef5350"/>
<line x1="332.64" x2="332.64" y1="217.10" y2="237.20" stroke="#26a69a" stroke-width="1" opacity="0.75"/>
<rect x="331.14" y="227.20" width="3" height="8.80" fill="#26a69a"/>
<line x1="336.87" x2="336.87" y1="224.30" y2="244.20" stroke="#26a69a" stroke-width="1" opacity="0.75"/>
<rect x="335.37" y="224.30" width="3" height="2.20" fill="#26a69a"/>
<line x1="341.10" x2="341.10" y1="215.80" y2="230.90" stroke="#ef5350" stroke-width="1" opacity="0.75"/>
<rect x="339.60" y="224.60" width="3" height="4.20" fill="#ef5350"/>
<line x1="345.33" x2="345.33" y1="219.60" y2="235.40" stroke="#26a69a" stroke-width="1" opacity="0.75"/>
<rect x="343.83" y="220.90" width="3" height="7.90" fill="#26a69a"/>
<line x1="349.56" x2="349.56" y1="217.70" y2="230.90" stroke="#ef5350" stroke-width="1" opacity="0.75"/>
<rect x="348.06" y="220.90" width="3" height="5.60" fill="#ef5350"/>
<line x1="353.79" x2="353.79" y1="220.20" y2="240.70" stroke="#ef5350" stroke-width="1" opacity="0.75"/>
<rect x="352.29" y="227.20" width="3" height="10.50" fill="#ef5350"/>
<line x1="358.02" x2="358.02" y1="237.50" y2="252.00" stroke="#ef5350" stroke-width="1" opacity="0.75"/>
<rect x="356.52" y="238.00" width="3" height="7.60" fill="#ef5350"/>
<line x1="362.25" x2="362.25" y1="230.90" y2="270.30" stroke="#ef5350" stroke-width="1" opacity="0.75"/>
<rect x="360.75" y="245.40" width="3" height="23.00" fill="#ef5350"/>
<line x1="366.48" x2="366.48" y1="260.20" y2="289.90" stroke="#ef5350" stroke-width="1" opacity="0.75"/>
<rect x="364.98" y="268.00" width="3" height="21.50" fill="#ef5350"/>
<line x1="370.71" x2="370.71" y1="262.10" y2="291.70" stroke="#26a69a" stroke-width="1" opacity="0.75"/>
<rect x="369.21" y="263.80" width="3" height="25.70" fill="#26a69a"/>
<line x1="374.94" x2="374.94" y1="257.40" y2="274.10" stroke="#ef5350" stroke-width="1" opacity="0.75"/>
<rect x="373.44" y="263.80" width="3" height="9.00" fill="#ef5350"/>
<line x1="379.17" x2="379.17" y1="263.80" y2="276.40" stroke="#26a69a" stroke-width="1" opacity="0.75"/>
<rect x="377.67" y="264.30" width="3" height="8.50" fill="#26a69a"/>
<line x1="383.40" x2="383.40" y1="255.80" y2="268.00" stroke="#26a69a" stroke-width="1" opacity="0.75"/>
<rect x="381.90" y="263.30" width="3" height="1.20" fill="#26a69a"/>
<line x1="387.63" x2="387.63" y1="262.50" y2="276.00" stroke="#ef5350" stroke-width="1" opacity="0.75"/>
<rect x="386.13" y="263.40" width="3" height="9.40" fill="#ef5350"/>
<line x1="391.85" x2="391.85" y1="260.90" y2="276.00" stroke="#26a69a" stroke-width="1" opacity="0.75"/>
<rect x="390.35" y="261.20" width="3" height="11.60" fill="#26a69a"/>
<line x1="396.08" x2="396.08" y1="260.90" y2="269.70" stroke="#ef5350" stroke-width="1" opacity="0.75"/>
<rect x="394.58" y="261.20" width="3" height="7.60" fill="#ef5350"/>
<line x1="400.31" x2="400.31" y1="254.20" y2="269.00" stroke="#26a69a" stroke-width="1" opacity="0.75"/>
<rect x="398.81" y="254.90" width="3" height="13.90" fill="#26a69a"/>
<line x1="404.54" x2="404.54" y1="248.60" y2="258.30" stroke="#26a69a" stroke-width="1" opacity="0.75"/>
<rect x="403.04" y="252.90" width="3" height="2.30" fill="#26a69a"/>
<line x1="408.77" x2="408.77" y1="249.50" y2="264.60" stroke="#ef5350" stroke-width="1" opacity="0.75"/>
<rect x="407.27" y="252.90" width="3" height="6.10" fill="#ef5350"/>
<line x1="413.00" x2="413.00" y1="249.10" y2="259.60" stroke="#26a69a" stroke-width="1" opacity="0.75"/>
<rect x="411.50" y="255.20" width="3" height="4.00" fill="#26a69a"/>
<line x1="417.23" x2="417.23" y1="246.30" y2="257.70" stroke="#26a69a" stroke-width="1" opacity="0.75"/>
<rect x="415.73" y="252.90" width="3" height="2.00" fill="#26a69a"/>
<line x1="421.46" x2="421.46" y1="250.40" y2="258.70" stroke="#ef5350" stroke-width="1" opacity="0.75"/>
<rect x="419.96" y="252.90" width="3" height="5.40" fill="#ef5350"/>
<line x1="425.69" x2="425.69" y1="252.00" y2="274.70" stroke="#ef5350" stroke-width="1" opacity="0.75"/>
<rect x="424.19" y="258.00" width="3" height="12.00" fill="#ef5350"/>
<line x1="429.92" x2="429.92" y1="262.10" y2="271.80" stroke="#26a69a" stroke-width="1" opacity="0.75"/>
<rect x="428.42" y="266.80" width="3" height="3.80" fill="#26a69a"/>
<line x1="434.15" x2="434.15" y1="258.30" y2="268.80" stroke="#26a69a" stroke-width="1" opacity="0.75"/>
<rect x="432.65" y="258.70" width="3" height="8.10" fill="#26a69a"/>
<line x1="438.38" x2="438.38" y1="244.40" y2="263.40" stroke="#26a69a" stroke-width="1" opacity="0.75"/>
<rect x="436.88" y="244.70" width="3" height="13.90" fill="#26a69a"/>
<line x1="442.61" x2="442.61" y1="238.50" y2="254.60" stroke="#ef5350" stroke-width="1" opacity="0.75"/>
<rect x="441.11" y="244.70" width="3" height="3.10" fill="#ef5350"/>
<line x1="446.84" x2="446.84" y1="230.80" y2="251.20" stroke="#26a69a" stroke-width="1" opacity="0.75"/>
<rect x="445.34" y="232.00" width="3" height="15.60" fill="#26a69a"/>
<line x1="451.07" x2="451.07" y1="230.80" y2="247.40" stroke="#ef5350" stroke-width="1" opacity="0.75"/>
<rect x="449.57" y="231.60" width="3" height="12.90" fill="#ef5350"/>
<line x1="455.30" x2="455.30" y1="242.40" y2="256.20" stroke="#ef5350" stroke-width="1" opacity="0.75"/>
<rect x="453.80" y="244.20" width="3" height="11.50" fill="#ef5350"/>
<line x1="459.53" x2="459.53" y1="250.90" y2="262.10" stroke="#ef5350" stroke-width="1" opacity="0.75"/>
<rect x="458.03" y="255.70" width="3" height="6.00" fill="#ef5350"/>
<line x1="463.76" x2="463.76" y1="261.20" y2="274.70" stroke="#ef5350" stroke-width="1" opacity="0.75"/>
<rect x="462.26" y="261.70" width="3" height="10.80" fill="#ef5350"/>
<line x1="467.99" x2="467.99" y1="265.60" y2="272.80" stroke="#26a69a" stroke-width="1" opacity="0.75"/>
<rect x="466.49" y="268.20" width="3" height="3.90" fill="#26a69a"/>
<line x1="472.22" x2="472.22" y1="258.70" y2="281.60" stroke="#ef5350" stroke-width="1" opacity="0.75"/>
<rect x="470.72" y="268.40" width="3" height="7.20" fill="#ef5350"/>
<line x1="476.44" x2="476.44" y1="254.30" y2="275.60" stroke="#26a69a" stroke-width="1" opacity="0.75"/>
<rect x="474.94" y="255.00" width="3" height="20.60" fill="#26a69a"/>
<line x1="480.67" x2="480.67" y1="244.30" y2="255.40" stroke="#26a69a" stroke-width="1" opacity="0.75"/>
<rect x="479.17" y="252.60" width="3" height="2.50" fill="#26a69a"/>
<line x1="484.90" x2="484.90" y1="252.20" y2="268.40" stroke="#ef5350" stroke-width="1" opacity="0.75"/>
<rect x="483.40" y="252.60" width="3" height="12.70" fill="#ef5350"/>
<line x1="489.13" x2="489.13" y1="261.70" y2="266.70" stroke="#26a69a" stroke-width="1" opacity="0.75"/>
<rect x="487.63" y="262.30" width="3" height="3.80" fill="#26a69a"/>
<line x1="493.36" x2="493.36" y1="254.70" y2="264.80" stroke="#26a69a" stroke-width="1" opacity="0.75"/>
<rect x="491.86" y="258.50" width="3" height="4.20" fill="#26a69a"/>
<line x1="497.59" x2="497.59" y1="251.60" y2="268.00" stroke="#ef5350" stroke-width="1" opacity="0.75"/>
<rect x="496.09" y="258.50" width="3" height="9.50" fill="#ef5350"/>
<line x1="501.82" x2="501.82" y1="267.50" y2="285.30" stroke="#ef5350" stroke-width="1" opacity="0.75"/>
<rect x="500.32" y="268.00" width="3" height="7.60" fill="#ef5350"/>
<line x1="506.05" x2="506.05" y1="274.60" y2="306.80" stroke="#ef5350" stroke-width="1" opacity="0.75"/>
<rect x="504.55" y="275.20" width="3" height="31.20" fill="#ef5350"/>
<line x1="510.28" x2="510.28" y1="293.50" y2="311.40" stroke="#26a69a" stroke-width="1" opacity="0.75"/>
<rect x="508.78" y="299.60" width="3" height="6.80" fill="#26a69a"/>
<line x1="514.51" x2="514.51" y1="292.00" y2="304.20" stroke="#ef5350" stroke-width="1" opacity="0.75"/>
<rect x="513.01" y="299.20" width="3" height="1.30" fill="#ef5350"/>
<line x1="518.74" x2="518.74" y1="282.80" y2="307.40" stroke="#26a69a" stroke-width="1" opacity="0.75"/>
<rect x="517.24" y="287.20" width="3" height="13.30" fill="#26a69a"/>
<line x1="522.97" x2="522.97" y1="275.20" y2="287.90" stroke="#26a69a" stroke-width="1" opacity="0.75"/>
<rect x="521.47" y="281.20" width="3" height="6.00" fill="#26a69a"/>
<line x1="527.20" x2="527.20" y1="278.40" y2="298.30" stroke="#ef5350" stroke-width="1" opacity="0.75"/>
<rect x="525.70" y="280.90" width="3" height="11.40" fill="#ef5350"/>
<line x1="531.43" x2="531.43" y1="259.10" y2="295.80" stroke="#26a69a" stroke-width="1" opacity="0.75"/>
<rect x="529.93" y="262.90" width="3" height="29.40" fill="#26a69a"/>
<line x1="535.66" x2="535.66" y1="209.50" y2="263.00" stroke="#26a69a" stroke-width="1" opacity="0.75"/>
<rect x="534.16" y="210.10" width="3" height="52.80" fill="#26a69a"/>
<line x1="539.89" x2="539.89" y1="180.00" y2="210.10" stroke="#26a69a" stroke-width="1" opacity="0.75"/>
<rect x="538.39" y="182.50" width="3" height="27.60" fill="#26a69a"/>
<line x1="544.12" x2="544.12" y1="182.20" y2="213.20" stroke="#ef5350" stroke-width="1" opacity="0.75"/>
<rect x="542.62" y="182.50" width="3" height="27.60" fill="#ef5350"/>
<line x1="548.35" x2="548.35" y1="194.10" y2="232.50" stroke="#ef5350" stroke-width="1" opacity="0.75"/>
<rect x="546.85" y="210.70" width="3" height="1.30" fill="#ef5350"/>
<line x1="552.58" x2="552.58" y1="199.80" y2="239.30" stroke="#26a69a" stroke-width="1" opacity="0.75"/>
<rect x="551.08" y="209.00" width="3" height="3.40" fill="#26a69a"/>
<line x1="556.81" x2="556.81" y1="196.70" y2="230.00" stroke="#ef5350" stroke-width="1" opacity="0.75"/>
<rect x="555.31" y="209.00" width="3" height="3.60" fill="#ef5350"/>
<line x1="561.03" x2="561.03" y1="186.30" y2="220.80" stroke="#26a69a" stroke-width="1" opacity="0.75"/>
<rect x="559.53" y="191.00" width="3" height="21.60" fill="#26a69a"/>
<line x1="565.26" x2="565.26" y1="155.30" y2="198.60" stroke="#ef5350" stroke-width="1" opacity="0.75"/>
<rect x="563.76" y="191.00" width="3" height="5.00" fill="#ef5350"/>
<line x1="569.49" x2="569.49" y1="170.20" y2="197.70" stroke="#26a69a" stroke-width="1" opacity="0.75"/>
<rect x="567.99" y="174.60" width="3" height="21.40" fill="#26a69a"/>
<line x1="573.72" x2="573.72" y1="174.60" y2="207.80" stroke="#ef5350" stroke-width="1" opacity="0.75"/>
<rect x="572.22" y="175.20" width="3" height="17.70" fill="#ef5350"/>
<line x1="577.95" x2="577.95" y1="165.10" y2="205.60" stroke="#ef5350" stroke-width="1" opacity="0.75"/>
<rect x="576.45" y="193.10" width="3" height="4.80" fill="#ef5350"/>
<line x1="582.18" x2="582.18" y1="186.60" y2="208.10" stroke="#ef5350" stroke-width="1" opacity="0.75"/>
<rect x="580.68" y="197.90" width="3" height="8.00" fill="#ef5350"/>
<line x1="586.41" x2="586.41" y1="192.90" y2="212.60" stroke="#26a69a" stroke-width="1" opacity="0.75"/>
<rect x="584.91" y="197.30" width="3" height="8.50" fill="#26a69a"/>
<line x1="590.64" x2="590.64" y1="189.10" y2="208.80" stroke="#ef5350" stroke-width="1" opacity="0.75"/>
<rect x="589.14" y="197.30" width="3" height="8.90" fill="#ef5350"/>
<line x1="594.87" x2="594.87" y1="204.30" y2="227.10" stroke="#ef5350" stroke-width="1" opacity="0.75"/>
<rect x="593.37" y="205.60" width="3" height="21.50" fill="#ef5350"/>
<line x1="599.10" x2="599.10" y1="215.80" y2="230.90" stroke="#26a69a" stroke-width="1" opacity="0.75"/>
<rect x="597.60" y="222.70" width="3" height="4.40" fill="#26a69a"/>
<line x1="603.33" x2="603.33" y1="203.10" y2="222.70" stroke="#26a69a" stroke-width="1" opacity="0.75"/>
<rect x="601.83" y="208.20" width="3" height="14.50" fill="#26a69a"/>
<line x1="607.56" x2="607.56" y1="198.60" y2="217.00" stroke="#26a69a" stroke-width="1" opacity="0.75"/>
<rect x="606.06" y="204.10" width="3" height="4.00" fill="#26a69a"/>
<line x1="611.79" x2="611.79" y1="198.60" y2="210.10" stroke="#26a69a" stroke-width="1" opacity="0.75"/>
<rect x="610.29" y="202.10" width="3" height="2.30" fill="#26a69a"/>
<line x1="616.02" x2="616.02" y1="201.10" y2="214.50" stroke="#ef5350" stroke-width="1" opacity="0.75"/>
<rect x="614.52" y="202.00" width="3" height="9.60" fill="#ef5350"/>
<line x1="620.25" x2="620.25" y1="206.30" y2="220.80" stroke="#26a69a" stroke-width="1" opacity="0.75"/>
<rect x="618.75" y="206.90" width="3" height="4.40" fill="#26a69a"/>
<line x1="624.48" x2="624.48" y1="205.80" y2="225.20" stroke="#ef5350" stroke-width="1" opacity="0.75"/>
<rect x="622.98" y="206.60" width="3" height="14.80" fill="#ef5350"/>
<line x1="628.71" x2="628.71" y1="218.90" y2="231.50" stroke="#ef5350" stroke-width="1" opacity="0.75"/>
<rect x="627.21" y="220.80" width="3" height="7.60" fill="#ef5350"/>
<line x1="632.94" x2="632.94" y1="222.10" y2="236.60" stroke="#26a69a" stroke-width="1" opacity="0.75"/>
<rect x="631.44" y="225.20" width="3" height="3.20" fill="#26a69a"/>
<line x1="637.17" x2="637.17" y1="213.60" y2="228.80" stroke="#26a69a" stroke-width="1" opacity="0.75"/>
<rect x="635.67" y="213.90" width="3" height="12.00" fill="#26a69a"/>
<line x1="641.40" x2="641.40" y1="212.40" y2="220.80" stroke="#ef5350" stroke-width="1" opacity="0.75"/>
<rect x="639.90" y="213.80" width="3" height="5.70" fill="#ef5350"/>
<line x1="645.62" x2="645.62" y1="217.70" y2="227.60" stroke="#ef5350" stroke-width="1" opacity="0.75"/>
<rect x="644.12" y="219.00" width="3" height="6.60" fill="#ef5350"/>
<line x1="649.85" x2="649.85" y1="225.00" y2="255.20" stroke="#ef5350" stroke-width="1" opacity="0.75"/>
<rect x="648.35" y="225.30" width="3" height="23.90" fill="#ef5350"/>
<line x1="654.08" x2="654.08" y1="239.10" y2="255.00" stroke="#26a69a" stroke-width="1" opacity="0.75"/>
<rect x="652.58" y="242.30" width="3" height="8.20" fill="#26a69a"/>
<line x1="658.31" x2="658.31" y1="225.30" y2="245.40" stroke="#26a69a" stroke-width="1" opacity="0.75"/>
<rect x="656.81" y="235.40" width="3" height="6.90" fill="#26a69a"/>
<line x1="662.54" x2="662.54" y1="222.10" y2="236.00" stroke="#26a69a" stroke-width="1" opacity="0.75"/>
<rect x="661.04" y="233.50" width="3" height="2.10" fill="#26a69a"/>
<line x1="666.77" x2="666.77" y1="217.70" y2="243.50" stroke="#ef5350" stroke-width="1" opacity="0.75"/>
<rect x="665.27" y="233.50" width="3" height="7.50" fill="#ef5350"/>
<line x1="671.00" x2="671.00" y1="206.30" y2="251.70" stroke="#26a69a" stroke-width="1" opacity="0.75"/>
<rect x="669.50" y="207.00" width="3" height="35.30" fill="#26a69a"/>
<line x1="675.23" x2="675.23" y1="198.70" y2="215.20" stroke="#26a69a" stroke-width="1" opacity="0.75"/>
<rect x="673.73" y="204.50" width="3" height="2.50" fill="#26a69a"/>
<line x1="679.46" x2="679.46" y1="187.90" y2="217.10" stroke="#26a69a" stroke-width="1" opacity="0.75"/>
<rect x="677.96" y="194.20" width="3" height="10.30" fill="#26a69a"/>
<line x1="683.69" x2="683.69" y1="189.20" y2="209.90" stroke="#ef5350" stroke-width="1" opacity="0.75"/>
<rect x="682.19" y="194.20" width="3" height="12.40" fill="#ef5350"/>
<line x1="687.92" x2="687.92" y1="191.70" y2="210.80" stroke="#26a69a" stroke-width="1" opacity="0.75"/>
<rect x="686.42" y="200.00" width="3" height="6.10" fill="#26a69a"/>
<line x1="692.15" x2="692.15" y1="198.60" y2="214.90" stroke="#ef5350" stroke-width="1" opacity="0.75"/>
<rect x="690.65" y="199.80" width="3" height="13.50" fill="#ef5350"/>
<line x1="696.38" x2="696.38" y1="206.30" y2="222.10" stroke="#26a69a" stroke-width="1" opacity="0.75"/>
<rect x="694.88" y="208.60" width="3" height="4.10" fill="#26a69a"/>
<line x1="700.61" x2="700.61" y1="208.60" y2="219.00" stroke="#ef5350" stroke-width="1" opacity="0.75"/>
<rect x="699.11" y="208.90" width="3" height="6.30" fill="#ef5350"/>
<line x1="704.84" x2="704.84" y1="207.00" y2="219.60" stroke="#26a69a" stroke-width="1" opacity="0.75"/>
<rect x="703.34" y="211.40" width="3" height="3.80" fill="#26a69a"/>
<line x1="709.07" x2="709.07" y1="175.90" y2="214.90" stroke="#26a69a" stroke-width="1" opacity="0.75"/>
<rect x="707.57" y="180.40" width="3" height="31.00" fill="#26a69a"/>
<line x1="713.30" x2="713.30" y1="177.80" y2="189.80" stroke="#ef5350" stroke-width="1" opacity="0.75"/>
<rect x="711.80" y="181.00" width="3" height="3.80" fill="#ef5350"/>
<line x1="717.53" x2="717.53" y1="164.60" y2="184.80" stroke="#26a69a" stroke-width="1" opacity="0.75"/>
<rect x="716.03" y="169.60" width="3" height="15.20" fill="#26a69a"/>
<line x1="721.76" x2="721.76" y1="157.70" y2="172.50" stroke="#26a69a" stroke-width="1" opacity="0.75"/>
<rect x="720.26" y="162.70" width="3" height="7.60" fill="#26a69a"/>
<line x1="725.99" x2="725.99" y1="154.90" y2="170.90" stroke="#ef5350" stroke-width="1" opacity="0.75"/>
<rect x="724.49" y="163.30" width="3" height="6.30" fill="#ef5350"/>
<line x1="730.22" x2="730.22" y1="152.60" y2="169.30" stroke="#26a69a" stroke-width="1" opacity="0.75"/>
<rect x="728.72" y="159.20" width="3" height="9.60" fill="#26a69a"/>
<line x1="734.44" x2="734.44" y1="156.40" y2="165.90" stroke="#ef5350" stroke-width="1" opacity="0.75"/>
<rect x="732.94" y="159.20" width="3" height="4.80" fill="#ef5350"/>
<line x1="738.67" x2="738.67" y1="136.60" y2="163.30" stroke="#26a69a" stroke-width="1" opacity="0.75"/>
<rect x="737.17" y="140.60" width="3" height="22.70" fill="#26a69a"/>
<line x1="742.90" x2="742.90" y1="133.40" y2="147.40" stroke="#26a69a" stroke-width="1" opacity="0.75"/>
<rect x="741.40" y="138.50" width="3" height="2.70" fill="#26a69a"/>
<line x1="747.13" x2="747.13" y1="122.70" y2="143.40" stroke="#26a69a" stroke-width="1" opacity="0.75"/>
<rect x="745.63" y="132.50" width="3" height="6.00" fill="#26a69a"/>
<line x1="751.36" x2="751.36" y1="132.20" y2="153.80" stroke="#ef5350" stroke-width="1" opacity="0.75"/>
<rect x="749.86" y="132.50" width="3" height="17.20" fill="#ef5350"/>
<line x1="755.59" x2="755.59" y1="141.10" y2="155.20" stroke="#26a69a" stroke-width="1" opacity="0.75"/>
<rect x="754.09" y="148.35" width="3" height="1.20" fill="#26a69a"/>
<line x1="759.82" x2="759.82" y1="142.70" y2="152.20" stroke="#ef5350" stroke-width="1" opacity="0.75"/>
<rect x="758.32" y="148.30" width="3" height="3.10" fill="#ef5350"/>
<line x1="764.05" x2="764.05" y1="148.30" y2="162.00" stroke="#ef5350" stroke-width="1" opacity="0.75"/>
<rect x="762.55" y="150.40" width="3" height="5.80" fill="#ef5350"/>
<line x1="768.28" x2="768.28" y1="148.60" y2="165.90" stroke="#ef5350" stroke-width="1" opacity="0.75"/>
<rect x="766.78" y="155.90" width="3" height="6.80" fill="#ef5350"/>
<line x1="772.51" x2="772.51" y1="142.90" y2="163.00" stroke="#26a69a" stroke-width="1" opacity="0.75"/>
<rect x="771.01" y="143.20" width="3" height="19.70" fill="#26a69a"/>
<line x1="776.74" x2="776.74" y1="135.80" y2="147.30" stroke="#ef5350" stroke-width="1" opacity="0.75"/>
<rect x="775.24" y="142.60" width="3" height="1.30" fill="#ef5350"/>
<line x1="780.97" x2="780.97" y1="143.00" y2="155.80" stroke="#ef5350" stroke-width="1" opacity="0.75"/>
<rect x="779.47" y="143.40" width="3" height="7.60" fill="#ef5350"/>
<line x1="785.20" x2="785.20" y1="149.30" y2="158.00" stroke="#ef5350" stroke-width="1" opacity="0.75"/>
<rect x="783.70" y="150.40" width="3" height="3.50" fill="#ef5350"/>
<line x1="789.43" x2="789.43" y1="144.10" y2="157.50" stroke="#26a69a" stroke-width="1" opacity="0.75"/>
<rect x="787.93" y="148.60" width="3" height="5.20" fill="#26a69a"/>
<line x1="793.66" x2="793.66" y1="144.80" y2="159.70" stroke="#ef5350" stroke-width="1" opacity="0.75"/>
<rect x="792.16" y="148.90" width="3" height="10.40" fill="#ef5350"/>
<line x1="797.89" x2="797.89" y1="153.10" y2="167.80" stroke="#ef5350" stroke-width="1" opacity="0.75"/>
<rect x="796.39" y="159.30" width="3" height="7.30" fill="#ef5350"/>
<line x1="802.12" x2="802.12" y1="160.30" y2="173.50" stroke="#ef5350" stroke-width="1" opacity="0.75"/>
<rect x="800.62" y="166.30" width="3" height="1.50" fill="#ef5350"/>
<line x1="806.35" x2="806.35" y1="159.60" y2="172.20" stroke="#ef5350" stroke-width="1" opacity="0.75"/>
<rect x="804.85" y="167.80" width="3" height="3.60" fill="#ef5350"/>
<line x1="810.58" x2="810.58" y1="170.40" y2="181.70" stroke="#ef5350" stroke-width="1" opacity="0.75"/>
<rect x="809.08" y="171.00" width="3" height="6.70" fill="#ef5350"/>
<line x1="814.81" x2="814.81" y1="171.60" y2="178.50" stroke="#26a69a" stroke-width="1" opacity="0.75"/>
<rect x="813.31" y="173.50" width="3" height="4.20" fill="#26a69a"/>
<line x1="819.03" x2="819.03" y1="167.80" y2="174.80" stroke="#26a69a" stroke-width="1" opacity="0.75"/>
<rect x="817.53" y="169.30" width="3" height="4.80" fill="#26a69a"/>
<line x1="823.26" x2="823.26" y1="164.70" y2="177.30" stroke="#26a69a" stroke-width="1" opacity="0.75"/>
<rect x="821.76" y="165.90" width="3" height="4.20" fill="#26a69a"/>
<line x1="827.49" x2="827.49" y1="159.60" y2="170.60" stroke="#ef5350" stroke-width="1" opacity="0.75"/>
<rect x="825.99" y="165.90" width="3" height="4.50" fill="#ef5350"/>
<line x1="831.72" x2="831.72" y1="150.20" y2="173.50" stroke="#26a69a" stroke-width="1" opacity="0.75"/>
<rect x="830.22" y="154.20" width="3" height="15.90" fill="#26a69a"/>
<line x1="835.95" x2="835.95" y1="146.40" y2="159.60" stroke="#26a69a" stroke-width="1" opacity="0.75"/>
<rect x="834.45" y="153.00" width="3" height="1.60" fill="#26a69a"/>
<line x1="840.18" x2="840.18" y1="142.70" y2="156.60" stroke="#26a69a" stroke-width="1" opacity="0.75"/>
<rect x="838.68" y="148.70" width="3" height="4.70" fill="#26a69a"/>
<line x1="844.41" x2="844.41" y1="132.40" y2="148.90" stroke="#26a69a" stroke-width="1" opacity="0.75"/>
<rect x="842.91" y="135.30" width="3" height="13.40" fill="#26a69a"/>
<line x1="848.64" x2="848.64" y1="127.20" y2="136.60" stroke="#26a69a" stroke-width="1" opacity="0.75"/>
<rect x="847.14" y="130.80" width="3" height="4.90" fill="#26a69a"/>
<line x1="852.87" x2="852.87" y1="128.60" y2="143.80" stroke="#ef5350" stroke-width="1" opacity="0.75"/>
<rect x="851.37" y="132.40" width="3" height="8.30" fill="#ef5350"/>
<line x1="857.10" x2="857.10" y1="118.30" y2="140.70" stroke="#26a69a" stroke-width="1" opacity="0.75"/>
<rect x="855.60" y="118.70" width="3" height="21.90" fill="#26a69a"/>
<line x1="861.33" x2="861.33" y1="116.20" y2="120.60" stroke="#26a69a" stroke-width="1" opacity="0.75"/>
<rect x="859.83" y="118.20" width="3" height="1.90" fill="#26a69a"/>
</g>
<line x1="8.9" x2="979.9" y1="394.3" y2="394.3" stroke="#6e717b" stroke-width="1.05" stroke-dasharray="4.19 4.194"/>
<line x1="8.9" x2="979.9" y1="440.4" y2="440.4" stroke="#6e717b" stroke-width="1.05" stroke-dasharray="4.19 4.194"/>
<line x1="8.9" x2="979.9" y1="417.4" y2="417.4" stroke="#cbcdd4" stroke-width="1.05" stroke-dasharray="4.19 4.194"/>
<polyline points="9.3,409.7 16.3,413.9 24.6,417.2 32.9,420.2 41.2,422.5 49.5,423.3 57.8,423.0 64.4,421.4 71.1,420.9 77.7,421.9 86.0,423.8 94.3,425.5 102.6,427.5 110.9,429.2 119.2,430.5 125.9,431.0 132.5,430.5 140.8,427.5 149.1,423.8 157.4,419.7 165.7,417.2 176.6,415.9 184.9,415.0 193.2,415.2 201.5,416.9 209.8,419.2 218.1,421.4 226.4,423.0 234.7,422.5 243.0,422.2 251.3,423.8 259.6,426.3 267.9,428.0 276.3,427.7 284.6,427.5 292.9,428.5 301.2,429.2 309.5,428.8 317.8,427.5 326.1,428.0 332.0,428.8 340.3,429.7 348.6,430.5 356.9,431.3 365.2,433.8 373.5,434.6 381.8,434.6 390.1,434.3 398.4,434.1 406.7,433.3 415.0,432.1 423.3,430.5 431.6,428.5 439.9,426.3 448.2,423.8 456.5,423.0 464.8,423.3 473.1,423.3 481.4,422.5 489.7,421.4 494.0,420.9 500.6,423.0 507.3,425.2 513.9,426.3 520.6,426.3 527.2,425.5 533.8,423.5 540.5,421.4 547.1,419.4 555.4,416.9 563.7,413.1 572.0,408.6 580.3,405.6 588.6,403.6 593.6,404.8 600.3,406.9 608.6,408.1 616.9,409.2 625.2,411.4 633.5,413.9 641.8,415.5 650.1,417.2 656.0,417.7 662.6,418.9 669.3,419.4 675.9,418.9 682.6,418.0 689.2,417.2 695.8,416.9 704.1,415.9 710.8,413.6 719.1,410.6 727.4,407.7 735.7,405.9 744.0,403.6 752.3,401.4 760.6,400.1 768.9,400.1 777.2,400.6 785.5,401.9 793.8,403.6 802.1,407.2 810.4,410.9 818.7,413.4 824.6,414.4 832.9,415.2 839.6,415.0 847.9,413.9 854.5,412.2 861.2,409.7" fill="none" stroke="#f6db78" stroke-width="1.2" stroke-linejoin="round" stroke-linecap="round"/>
<polyline points="9.3,432.5 11.3,436.3 15.5,425.5 19.6,423.5 23.8,420.2 27.9,421.4 32.6,423.8 36.2,418.5 40.4,412.6 45.4,415.2 49.5,415.9 53.7,418.0 57.8,420.2 62.0,424.7 66.4,421.4 70.3,427.5 74.4,436.3 77.7,437.6 82.7,430.5 87.4,424.2 91.8,428.8 96.0,431.3 100.1,433.0 104.0,434.3 107.6,430.5 111.8,429.2 116.7,428.0 121.4,432.5 125.0,430.5 129.7,419.7 133.7,421.4 137.8,411.4 142.5,406.1 146.6,407.2 150.8,405.6 154.9,405.3 159.1,411.4 163.7,415.5 168.2,416.9 172.5,420.2 176.3,424.2 180.3,426.7 184.6,420.2 189.1,425.8 192.9,417.2 197.4,421.4 201.9,417.5 205.7,418.5 210.7,424.2 214.5,424.7 218.5,424.3 222.8,426.8 227.3,423.5 231.4,423.0 235.6,421.4 239.7,423.3 244.4,422.5 248.0,426.3 252.2,433.8 256.7,441.3 261.0,433.8 265.1,429.2 269.3,428.5 273.4,421.7 277.6,424.3 282.1,424.2 285.9,425.8 290.4,431.0 294.5,433.3 298.7,423.8 303.3,421.4 307.5,424.7 311.6,430.0 315.8,430.5 319.9,432.6 324.1,433.8 328.2,436.8 332.0,433.5 336.6,431.8 341.1,433.3 345.6,428.8 349.4,430.5 353.6,433.8 357.7,436.3 361.9,441.3 366.5,445.1 370.5,435.1 374.8,436.6 379.3,433.0 383.5,432.6 387.6,434.6 391.8,429.7 395.9,431.6 400.4,425.5 404.5,424.7 408.7,427.2 413.0,424.7 417.2,423.8 421.6,426.3 426.3,430.8 430.3,428.5 434.1,423.8 438.3,416.9 442.4,418.5 446.6,411.1 450.7,416.9 455.2,422.2 459.5,425.0 464.0,428.5 468.1,426.3 472.6,428.8 476.4,418.9 480.9,417.7 485.1,423.3 488.9,421.9 492.7,419.7 497.3,423.8 502.0,427.5 506.0,436.3 510.1,433.3 514.3,433.3 518.6,426.8 522.6,423.8 527.2,428.0 531.4,413.9 535.5,398.1 539.7,392.3 543.8,404.3 548.0,405.3 552.4,404.4 556.8,405.9 560.9,400.1 565.4,402.3 569.2,396.9 573.7,404.8 577.8,407.7 582.0,410.6 586.5,408.1 590.6,412.6 594.9,418.9 599.1,417.2 603.2,413.6 607.7,411.4 611.9,410.6 616.0,414.7 620.2,413.1 624.7,418.9 628.8,421.4 633.1,420.2 637.3,415.2 641.4,417.2 645.6,420.2 650.1,428.5 654.2,425.2 659.3,422.2 662.6,421.4 666.8,424.3 671.3,410.6 675.6,408.9 679.7,405.6 683.9,411.4 688.0,409.4 692.2,415.2 696.3,413.6 700.5,416.4 705.0,414.7 709.1,403.1 713.3,405.1 717.4,400.3 721.6,397.6 725.7,401.1 729.9,398.1 734.0,400.3 738.5,393.5 742.7,392.3 746.8,390.6 751.1,402.3 755.3,401.9 759.4,403.9 763.6,406.9 767.7,411.1 772.2,403.1 776.4,402.6 780.5,406.9 785.0,410.1 789.1,407.2 793.3,413.1 797.4,417.2 801.8,418.5 805.9,420.9 810.4,423.8 814.5,421.9 818.0,419.7 822.6,416.7 827.1,418.9 831.3,409.7 835.4,408.6 839.6,406.1 844.2,399.3 848.4,397.3 852.5,405.1 857.0,395.3 860.8,395.6" fill="none" stroke="#8463c6" stroke-width="1.15" stroke-linejoin="round" stroke-linecap="round"/>
</svg>
<div class="t" style="left:16.0px;top:3.2px;font-size:9px;letter-spacing:-0.276px;color:#2a2e39">HYPEUSDT</div>
<div class="t" style="left:65.9px;top:3.2px;font-size:9px;letter-spacing:-0.497px;color:#2a2e39">·</div>
<div class="t" style="left:72.4px;top:3.2px;font-size:9px;letter-spacing:0.362px;color:#2a2e39">Hyperliquid</div>
<div class="t" style="left:124.9px;top:3.2px;font-size:9px;letter-spacing:0.800px;color:#2a2e39">/</div>
<div class="t" style="left:130.7px;top:3.2px;font-size:9px;letter-spacing:0.064px;color:#2a2e39">Tether</div>
<div class="t" style="left:160.1px;top:3.2px;font-size:9px;letter-spacing:-0.497px;color:#2a2e39">·</div>
<div class="t" style="left:166.2px;top:3.2px;font-size:9px;letter-spacing:-1.052px;color:#2a2e39">1D</div>
<div class="t" style="left:179.2px;top:3.2px;font-size:9px;letter-spacing:-0.497px;color:#2a2e39">·</div>
<div class="t" style="left:184.4px;top:3.2px;font-size:9px;letter-spacing:-0.136px;color:#2a2e39">KuCoin</div>
<div class="t" style="left:219.3px;top:3.2px;font-size:9px;letter-spacing:-0.700px;color:#2a2e39">O</div>
<div class="t" style="left:226.4px;top:3.2px;font-size:9px;letter-spacing:0.329px;color:#3aa99c">44.327</div>
<div class="t" style="left:262.2px;top:3.2px;font-size:9px;letter-spacing:-0.400px;color:#2a2e39">H</div>
<div class="t" style="left:268.9px;top:3.2px;font-size:9px;letter-spacing:0.345px;color:#3aa99c">45.005</div>
<div class="t" style="left:304.9px;top:3.2px;font-size:9px;letter-spacing:-1.005px;color:#2a2e39">L</div>
<div class="t" style="left:309.6px;top:3.2px;font-size:9px;letter-spacing:0.179px;color:#3aa99c">44.150</div>
<div class="t" style="left:344.5px;top:3.2px;font-size:9px;letter-spacing:-0.400px;color:#2a2e39">C</div>
<div class="t" style="left:351.4px;top:3.2px;font-size:9px;letter-spacing:0.345px;color:#3aa99c">44.497</div>
<div class="t" style="left:387.1px;top:3.2px;font-size:9px;letter-spacing:0.277px;color:#3aa99c">+0.169 (+0.38%)</div>
<div class="t" style="left:465.2px;top:3.2px;font-size:9px;letter-spacing:0.096px;color:#2a2e39">Vol</div>
<div class="t" style="left:478.9px;top:3.2px;font-size:9px;letter-spacing:-0.477px;color:#3aa99c">115.75</div>
<div class="t" style="left:506.1px;top:3.2px;font-size:9px;letter-spacing:-0.503px;color:#3aa99c">K</div>
<div class="t" style="left:16.0px;top:16.2px;font-size:9px;letter-spacing:0.030px;color:#2a2e39">Vol</div>
<div class="t" style="left:31.6px;top:16.2px;font-size:9px;letter-spacing:-0.497px;color:#2a2e39">·</div>
<div class="t" style="left:37.6px;top:16.2px;font-size:9px;letter-spacing:-0.577px;color:#2a2e39">HYPE</div>
<div class="t" style="left:66.0px;top:16.2px;font-size:9px;letter-spacing:-0.477px;color:#3aa99c">115.75</div>
<div class="t" style="left:93.8px;top:16.2px;font-size:9px;letter-spacing:-0.303px;color:#3aa99c">K</div>
<div class="t" style="left:16.0px;top:392.3px;font-size:9.3px;letter-spacing:-0.080px;color:#2a2e39">RSI (14, close)</div>
<div class="t" style="left:83.0px;top:392.3px;font-size:9.3px;letter-spacing:-0.214px;color:#7e57c2">69.18</div>
<div class="t" style="left:112.3px;top:392.3px;font-size:9.3px;letter-spacing:0.086px;color:#f5d76a">56.53</div>
<div class="t ax" style="left:988.3px;top:22.8px">64.000</div>
<div class="t ax" style="left:988.3px;top:56.0px">56.000</div>
<div class="t ax" style="left:988.3px;top:79.3px">51.000</div>
<div class="t ax" style="left:988.3px;top:104.9px">46.000</div>
<div class="t ax" style="left:988.3px;top:139.7px">40.000</div>
<div class="t ax" style="left:988.3px;top:165.9px">36.000</div>
<div class="t ax" style="left:988.3px;top:195.2px">32.000</div>
<div class="t ax" style="left:988.3px;top:219.7px">29.000</div>
<div class="t ax" style="left:988.3px;top:246.9px">26.000</div>
<div class="t ax" style="left:988.3px;top:277.4px">23.000</div>
<div class="t ax" style="left:988.3px;top:306.0px">20.500</div>
<div class="t ax" style="left:988.3px;top:331.5px">18.500</div>
<div class="t ax" style="left:988.3px;top:357.0px">16.700</div>
<div class="t ax" style="left:988.3px;top:400.6px">60.00</div>
<div class="t ax" style="left:988.3px;top:423.7px">40.00</div>
<div class="t ax" id="usdt" style="left:990.7px;top:2.6px;font-size:9px;letter-spacing:-0.05px;color:#50535c">USDT</div>
<div class="bx" style="top:93.6px;background:#9c27b0">48.027</div>
<div class="bx" style="top:130.6px;background:#9c27b0">41.386</div>
<div class="bx" style="top:215.1px;background:#9c27b0">29.486</div>
<div class="bx" style="top:313.8px;background:#9c27b0">19.826</div>
<div class="bx" style="top:160.0px;background:#e91e63">36.805</div>
<div class="bx" style="top:112.3px;background:#26a69a">44.497</div>
<div class="t tm" style="left:16.677px;top:456.5px;">Oct</div>
<div class="t tm" style="left:147.79149999999998px;top:456.5px;">Nov</div>
<div class="t tm" style="left:274.6765px;top:456.5px;">Dec</div>
<div class="t tm" style="left:405.791px;top:456.5px;font-weight:bold;font-size:10px;letter-spacing:0.4px;-webkit-text-stroke:0;">2026</div>
<div class="t tm" style="left:536.9055000000001px;top:456.5px;">Feb</div>
<div class="t tm" style="left:655.3315px;top:456.5px;">Mar</div>
<div class="t tm" style="left:786.446px;top:456.5px;">Apr</div>
<div class="t tm" style="left:913.031px;top:456.5px;">May</div>
</div></body></html>
